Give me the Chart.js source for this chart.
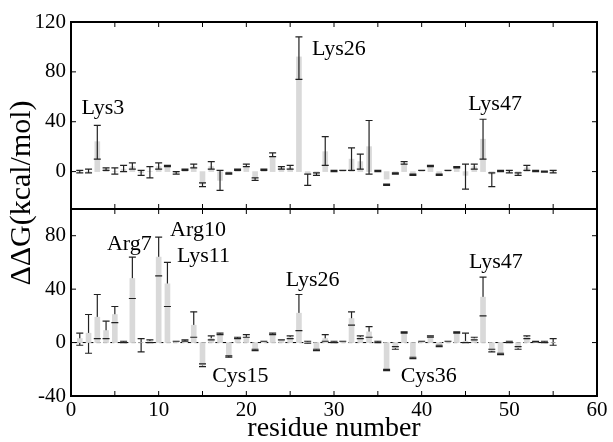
<!DOCTYPE html>
<html>
<head>
<meta charset="utf-8">
<script src="https://cdn.jsdelivr.net/npm/chart.js@4.4.1/dist/chart.umd.min.js"></script>
<style>
  body { margin: 0; background: #fff; }
  #wrap { width: 613px; height: 442px; position: relative; }
</style>
</head>
<body>
<div id="wrap"><canvas id="dg-chart"></canvas></div>
<script>
// residue numbers
const residues = [1,2,3,4,5,6,7,8,9,10, 11,12,13,14,15,16,17,18,19,20,
    21,22,23,24,25,26,27,28,29,30, 31,32,33,34,35,36,37,38,39,40,
    41,42,43,44,45,46,47,48,49,50, 51,52,53,54,55];

// tick values
const xTicks = [0, 10, 20, 30, 40, 50, 60];
const topTicks = [0, 40, 80, 120];
const botTicks = [-40, 0, 40, 80];

// top panel: mean and error range
const topMean = [0,0,24,2,0,2,4,-1,0,4, 4,-1,1,4,-10,4,-7,-2,1,4,
    -5,1,12,3,3,92,-2,-2,16,0.5, 1,10,8,20,1,-6,-1,6,-2,1,
    4,-2,1,3,-3,4,26,-2,0.5,0, -2,3,0.5,0,-0.5];
const topLo = [-1,-1,10,1,-2,0,2,-3,-5,2, 4,-2,1,3,-12,2,-15,-2,1,4,
    -7,1,12,2,2,74,-11,-3,5,0, 1,1,2,-2,0,-11,-2,6,-3,1,
    4,-3,1,3,-14,2,10,-12,0,-1, -3,1,0,-0.5,-1];
const topHi = [1,2,37,3,3,5,7,1,4,7, 5,0,2,6,-9,8,1,-1,2,6,
    -5,2,15,4,5,108,-2,-1,28,1, 1,19,14,41,1,-10,-1,8,-2,1,
    5,-2,1,4,6,6,42,-1,1,1, -1,5,1,0.5,1];

// bottom panel: mean and error range
const botMean = [3,7,19,9,21,0.5,48,0,1,64, 44,1,1,13,-17,3,6,-10,3,4,
    -5,1,6,2,4,22,0.5,-5,3,0.5, 1,18,4,8,0.5,-21,-4,8,-11,1,
    5,-3,1,8,1,3,34,-6,-9,1, -4,4,1,0.5,0];
const botLo = [-2,-8,3,3,15,0,33,-7,0,50, 27,1,1,4,-18,2,6,-11,3,4,
    -6,1,6,2,3,9,-0.5,-6,1,0, 1,13,3,4,0,-21,-5,7,-12,1,
    4,-3,1,7,0,2,20,-7,-9,0, -5,3,0.5,0,-2];
const botHi = [7,21,36,16,27,1,64,3,2,79, 60,1,2,23,-16,5,7,-10,4,6,
    -5,1,7,2,5,36,1,-5,6,1, 1,23,5,12,1,-20,-3,8,-11,1,
    5,-2,1,8,7,4,49,-5,-8,1, -3,5,1,1,3];

// annotations [text, x, y]
const topLabels = [['Lys3', 1.2, 51], ['Lys26', 27.5, 98], ['Lys47', 45.3, 54]];
const botLabels = [['Arg7', 4.1, 74], ['Arg10', 11.3, 84], ['Lys11', 12.1, 65],
    ['Lys26', 24.5, 46.5], ['Lys47', 45.4, 60.5], ['Cys15', 16.1, -25], ['Cys36', 37.6, -25]];

const SERIF = '"Liberation Serif", "DejaVu Serif", serif';
const GRAY = '#d9d9d9';

function toPoints(ys) {
    return residues.map((r, i) => ({ x: r, y: ys[i] }));
}

function errorBars(ctx, x, y, lo, hi, withLine, withCaps) {
    for (let i = 0; i < residues.length; i++) {
        const px = x.getPixelForValue(residues[i]);
        const pLo = y.getPixelForValue(lo[i]);
        const pHi = y.getPixelForValue(hi[i]);
        ctx.beginPath();
        if (withLine) {
            ctx.moveTo(px, pLo);
            ctx.lineTo(px, pHi);
        }
        if (withCaps) {
            ctx.moveTo(px - 3.5, pLo);
            ctx.lineTo(px + 3.5, pLo);
            ctx.moveTo(px - 3.5, pHi);
            ctx.lineTo(px + 3.5, pHi);
        }
        ctx.stroke();
    }
}

const panelPlugin = {
    id: 'panels',
    beforeDatasetsDraw(chart) {
        const ctx = chart.ctx;
        const { x, yBot } = chart.scales;
        ctx.save();
        // dashed zero line in the lower panel
        ctx.strokeStyle = '#000';
        ctx.lineWidth = 1;
        ctx.setLineDash([4, 3]);
        ctx.beginPath();
        ctx.moveTo(x.getPixelForValue(0.5), yBot.getPixelForValue(0));
        ctx.lineTo(x.getPixelForValue(55.5), yBot.getPixelForValue(0));
        ctx.stroke();
        ctx.setLineDash([]);
        // lower panel stems go behind the bars
        ctx.strokeStyle = '#222';
        ctx.lineWidth = 1.2;
        errorBars(ctx, x, yBot, botLo, botHi, true, false);
        ctx.restore();
    },
    afterDatasetsDraw(chart) {
        const ctx = chart.ctx;
        const { x, yTop, yBot } = chart.scales;
        const area = chart.chartArea;
        ctx.save();
        ctx.strokeStyle = '#222';
        ctx.lineWidth = 1.2;
        errorBars(ctx, x, yTop, topLo, topHi, true, true);
        errorBars(ctx, x, yBot, botLo, botHi, false, true);

        // frame + divider
        ctx.strokeStyle = '#000';
        ctx.lineWidth = 2;
        ctx.strokeRect(area.left, area.top, area.right - area.left, area.bottom - area.top);
        const mid = yTop.bottom;
        ctx.beginPath();
        ctx.moveTo(area.left, mid);
        ctx.lineTo(area.right, mid);
        ctx.stroke();

        // inward tick marks
        ctx.lineWidth = 1;
        ctx.beginPath();
        for (let v = 5; v < 60; v += 5) {
            const px = x.getPixelForValue(v);
            ctx.moveTo(px, area.top); ctx.lineTo(px, area.top + 5);
            ctx.moveTo(px, mid); ctx.lineTo(px, mid - 5);
            ctx.moveTo(px, mid); ctx.lineTo(px, mid + 5);
            ctx.moveTo(px, area.bottom); ctx.lineTo(px, area.bottom - 5);
        }
        [yTop, yBot].forEach(s => {
            s.ticks.forEach(t => {
                const py = s.getPixelForValue(t.value);
                ctx.moveTo(area.left, py); ctx.lineTo(area.left + 5, py);
                ctx.moveTo(area.right, py); ctx.lineTo(area.right - 5, py);
            });
        });
        ctx.stroke();

        // residue labels
        ctx.fillStyle = '#000';
        ctx.font = '22px ' + SERIF;
        ctx.textAlign = 'left';
        ctx.textBaseline = 'middle';
        topLabels.forEach(l => ctx.fillText(l[0], x.getPixelForValue(l[1]), yTop.getPixelForValue(l[2])));
        botLabels.forEach(l => ctx.fillText(l[0], x.getPixelForValue(l[1]), yBot.getPixelForValue(l[2])));

        // axis titles
        ctx.textAlign = 'center';
        ctx.font = '28px ' + SERIF;
        ctx.fillText('residue number', (area.left + area.right) / 2, area.bottom + 33);
        ctx.font = '30px ' + SERIF;
        ctx.translate(22, (area.top + area.bottom) / 2 - 16);
        ctx.rotate(-Math.PI / 2);
        ctx.fillText('ΔΔG(kcal/mol)', 0, 0);
        ctx.restore();
    }
};

function fixedTicks(values) {
    return scale => { scale.ticks = values.map(v => ({ value: v })); };
}

const yCommon = {
    type: 'linear',
    position: 'left',
    stack: 'panels',
    stackWeight: 1,
    grid: { display: false, drawTicks: false },
    border: { display: false },
    afterFit(s) { s.width = 71; },
    ticks: { autoSkip: false, padding: 5, color: '#000', font: { family: SERIF, size: 21 } }
};

new Chart(document.getElementById('dg-chart').getContext('2d'), {
    type: 'bar',
    data: {
        datasets: [
            { data: toPoints(topMean), yAxisID: 'yTop', backgroundColor: GRAY, barThickness: 5, grouped: false },
            { data: toPoints(botMean), yAxisID: 'yBot', backgroundColor: GRAY, barThickness: 5, grouped: false }
        ]
    },
    options: {
        responsive: true,
        maintainAspectRatio: false,
        animation: false,
        devicePixelRatio: 1,
        layout: { padding: { top: 22, right: 16, left: 0, bottom: 0 } },
        plugins: { legend: { display: false }, tooltip: { enabled: false } },
        scales: {
            x: {
                type: 'linear',
                min: 0,
                max: 60,
                offset: false,
                grid: { display: false, drawTicks: false },
                border: { display: false },
                afterBuildTicks: fixedTicks(xTicks),
                afterFit(s) { s.height = 46; },
                ticks: { autoSkip: false, padding: 2, maxRotation: 0, color: '#000', font: { family: SERIF, size: 21 } }
            },
            yBot: Object.assign({}, yCommon, { min: -40, max: 100, afterBuildTicks: fixedTicks(botTicks) }),
            yTop: Object.assign({}, yCommon, { min: -30, max: 120, afterBuildTicks: fixedTicks(topTicks) })
        }
    },
    plugins: [panelPlugin]
});
</script>
</body>
</html>
